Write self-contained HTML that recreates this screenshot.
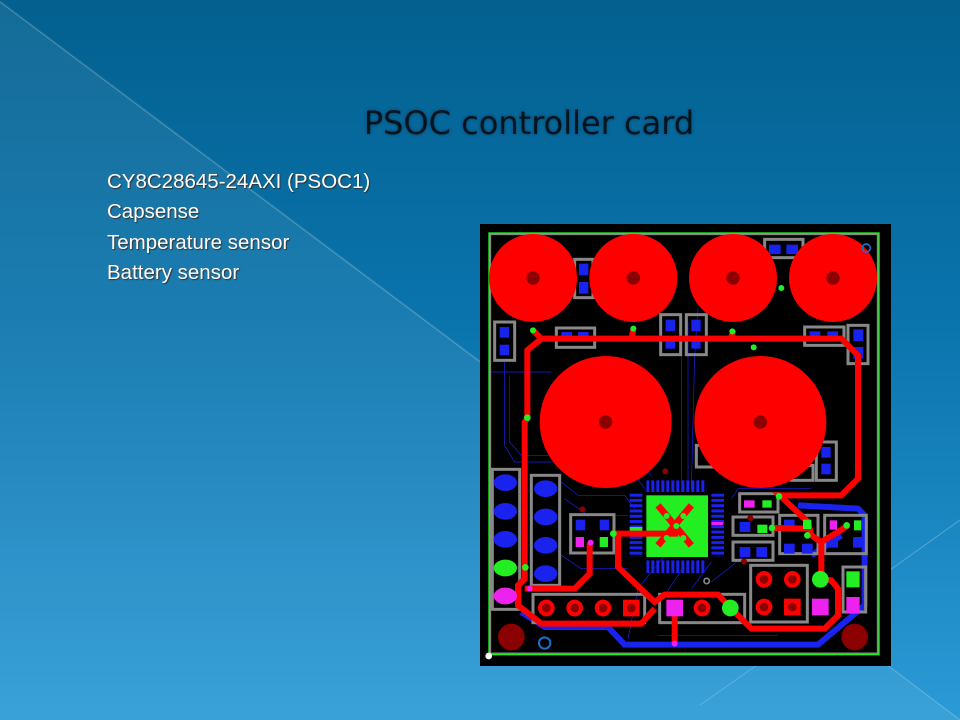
<!DOCTYPE html>
<html><head><meta charset="utf-8"><style>
html,body{margin:0;padding:0}
body{width:960px;height:720px;position:relative;overflow:hidden;background:linear-gradient(180deg,#03608f 0%,#0a74ad 45%,#2b9ad6 100%);font-family:"Liberation Sans",sans-serif}
#bg{position:absolute;left:0;top:0}
h1{position:absolute;left:0;width:1058px;top:104px;margin:0;text-align:center;font-weight:normal;font-size:32px;color:#04141f;font-family:"DejaVu Sans","Liberation Sans",sans-serif;text-shadow:0 0 3px #0a3e60}
.b{position:absolute;left:107px;color:#fff;font-size:20.5px;text-shadow:1px 1px 1px #333}
#pcb{position:absolute;left:478px;top:222px}
</style></head><body>
<svg id="bg" width="960" height="720">
<polygon points="0,0 960,720 0,720" fill="#ffffff" opacity="0.07"/>
<line x1="0" y1="2" x2="480" y2="362" stroke="#ffffff" stroke-opacity="0.25" stroke-width="1"/>
<line x1="960" y1="520" x2="890" y2="570" stroke="#ffffff" stroke-opacity="0.25"/>
<line x1="700" y1="705" x2="760" y2="663" stroke="#ffffff" stroke-opacity="0.2"/>
<line x1="886" y1="664" x2="960" y2="720" stroke="#ffffff" stroke-opacity="0.25"/>
</svg>
<h1>PSOC controller card</h1>
<div class="b" style="top:170px">CY8C28645-24AXI (PSOC1)</div>
<div class="b" style="top:200px">Capsense</div>
<div class="b" style="top:231px">Temperature sensor</div>
<div class="b" style="top:261px">Battery sensor</div>
<svg id="pcb" width="414" height="446" viewBox="0 0 1242 1338">
<rect x="6" y="6" width="1233" height="1326" fill="#000"/>
<rect x="37" y="37" width="1162" height="1257" fill="none" stroke="#888" stroke-width="5"/>
<rect x="33" y="33" width="1170" height="1265" fill="none" stroke="#22ee22" stroke-width="4"/>
<g stroke="#1a22ee" stroke-width="2" fill="none">
<path d="M95 460 L95 660 L130 700 L450 700 L520 760"/>
<path d="M80 420 L80 670 L110 720 L440 720 L500 800"/>
<path d="M250 780 L300 820 L440 820 L470 860"/>
<path d="M260 830 L330 880 L450 880"/>
<path d="M250 1000 L310 1040 L450 1040"/>
<path d="M610 300 L610 780 M630 300 L630 780"/>
<path d="M660 260 L650 400 L640 800"/>
<path d="M760 830 L780 800 L1000 800"/>
<path d="M560 1000 L480 1100 L450 1250"/>
<path d="M620 1030 L560 1120"/>
<path d="M700 1020 L640 1100"/>
<path d="M540 1240 L900 1240"/>
<path d="M40 450 L220 450"/>
<path d="M800 1000 L700 1080"/>
</g>
<g stroke="#1a22ee" stroke-width="18" fill="none" stroke-linejoin="round">
<path d="M130 1170 L200 1215 L390 1215 L440 1268 L1020 1268 L1160 1150 L1160 880 L1140 860 L960 850"/>
<path d="M1000 1000 L1090 940"/>
</g>
<g stroke="#888" stroke-width="9" fill="none">
<rect x="290" y="112" width="55" height="115"/>
<rect x="860" y="52" width="115" height="55"/>
<rect x="50" y="300" width="60" height="115"/>
<rect x="235" y="318" width="115" height="58"/>
<rect x="548" y="278" width="60" height="120"/>
<rect x="625" y="278" width="60" height="120"/>
<rect x="980" y="315" width="118" height="55"/>
<rect x="1110" y="310" width="60" height="115"/>
<rect x="43" y="742" width="82" height="420"/>
<rect x="160" y="760" width="85" height="330"/>
<rect x="278" y="878" width="130" height="115"/>
<rect x="785" y="815" width="115" height="55"/>
<rect x="765" y="885" width="120" height="55"/>
<rect x="765" y="960" width="120" height="55"/>
<rect x="905" y="880" width="115" height="115"/>
<rect x="1040" y="880" width="125" height="115"/>
<rect x="818" y="1030" width="170" height="170"/>
<rect x="1095" y="1035" width="68" height="135"/>
<rect x="165" y="1117" width="335" height="85"/>
<rect x="545" y="1117" width="255" height="85"/>
<rect x="655" y="670" width="50" height="65"/>
<rect x="1015" y="660" width="60" height="115"/>
<rect x="940" y="730" width="65" height="45"/>
</g>
<g fill="#1a22ee">
<rect x="303" y="125" width="28" height="35"/><rect x="303" y="180" width="28" height="35"/>
<rect x="873" y="68" width="35" height="28"/><rect x="925" y="68" width="35" height="28"/>
<rect x="65" y="315" width="28" height="32"/><rect x="65" y="368" width="28" height="32"/>
<rect x="250" y="330" width="32" height="28"/><rect x="300" y="330" width="32" height="28"/>
<rect x="563" y="293" width="28" height="35"/><rect x="563" y="350" width="28" height="30"/>
<rect x="640" y="293" width="28" height="35"/><rect x="640" y="350" width="28" height="30"/>
<rect x="995" y="328" width="32" height="28"/><rect x="1048" y="328" width="32" height="28"/>
<rect x="1126" y="322" width="30" height="35"/><rect x="1126" y="375" width="30" height="35"/>
<rect x="1030" y="675" width="28" height="32"/><rect x="1030" y="725" width="28" height="32"/>
<rect x="293" y="893" width="28" height="32"/><rect x="365" y="893" width="28" height="32"/>
<rect x="785" y="900" width="32" height="30"/><rect x="785" y="975" width="32" height="30"/><rect x="835" y="975" width="32" height="30"/>
<rect x="918" y="893" width="32" height="28"/><rect x="918" y="965" width="32" height="30"/><rect x="972" y="965" width="32" height="30"/>
<rect x="1052" y="945" width="28" height="32"/><rect x="1125" y="945" width="28" height="32"/>
<ellipse cx="82" cy="782" rx="35" ry="25"/><ellipse cx="82" cy="868" rx="35" ry="25"/><ellipse cx="82" cy="952" rx="35" ry="25"/>
<ellipse cx="203" cy="800" rx="35" ry="25"/><ellipse cx="203" cy="885" rx="35" ry="25"/><ellipse cx="203" cy="970" rx="35" ry="25"/><ellipse cx="203" cy="1055" rx="35" ry="25"/>
</g>
<defs>
<pattern id="pv" width="15" height="40" patternUnits="userSpaceOnUse" x="505"><rect width="9" height="40" fill="#1a22ee"/></pattern>
<pattern id="ph" width="40" height="15.8" patternUnits="userSpaceOnUse" y="815"><rect width="40" height="9" fill="#1a22ee"/></pattern>
</defs>
<rect x="505" y="775" width="180" height="35" fill="url(#pv)"/>
<rect x="505" y="1015" width="180" height="38" fill="url(#pv)"/>
<rect x="455" y="815" width="38" height="190" fill="url(#ph)"/>
<rect x="700" y="815" width="38" height="190" fill="url(#ph)"/>
<rect x="505" y="820" width="185" height="185" fill="#22ee22"/>
<g stroke="#ff0000" stroke-width="20"><line x1="540" y1="850" x2="640" y2="970"/><line x1="640" y1="850" x2="540" y2="970"/></g>
<rect x="455" y="915" width="38" height="12" fill="#22ee22"/>
<rect x="700" y="900" width="36" height="9" fill="#ee22ee"/>
<g fill="#ff0000">
<circle cx="165" cy="168" r="132"/><circle cx="466" cy="168" r="132"/><circle cx="765" cy="168" r="132"/><circle cx="1065" cy="168" r="132"/>
<circle cx="383" cy="600" r="198"/><circle cx="847" cy="600" r="198"/>
</g>
<g fill="#8b0000">
<circle cx="165" cy="168" r="20"/><circle cx="466" cy="168" r="20"/><circle cx="765" cy="168" r="20"/><circle cx="1065" cy="168" r="20"/>
<circle cx="383" cy="600" r="20"/><circle cx="847" cy="600" r="20"/>
</g>
<g stroke="#ff0000" stroke-width="18" fill="none" stroke-linejoin="miter">
<path d="M165 325 L190 350 L1090 350 L1140 400 L1140 770 L1090 820 L905 820 L990 900 L1000 940 L1030 960 L1030 1070 L1060 1075 L1080 1100 L1080 1180 L1040 1220 L820 1220 L760 1160 L720 1118 L560 1118 L530 1140 L420 1035 L420 935 L600 935"/>
<path d="M190 350 L148 385 L148 590 L140 600 L140 1070 L120 1090 L120 1150 L190 1205 L490 1205 L530 1160"/>
<path d="M140 1100 L290 1100 L335 1055 L335 962"/>
<path d="M1110 910 L1080 930 L1030 960 M885 918 L990 920"/>
<path d="M466 325 L460 350 M765 325 L760 350"/>
<path d="M590 1160 L590 1265"/>
</g>
<g fill="#ff0000">
<circle cx="205" cy="1158" r="25"/><circle cx="290" cy="1158" r="25"/><circle cx="375" cy="1158" r="25"/><rect x="435" y="1133" width="50" height="50"/>
<circle cx="672" cy="1158" r="25"/>
<circle cx="858" cy="1072" r="25"/><circle cx="943" cy="1072" r="25"/><circle cx="858" cy="1155" r="25"/><rect x="918" y="1130" width="50" height="50"/>
</g>
<g fill="#8b0000">
<circle cx="205" cy="1158" r="13"/><circle cx="290" cy="1158" r="13"/><circle cx="375" cy="1158" r="13"/><circle cx="460" cy="1158" r="13"/><circle cx="672" cy="1158" r="13"/>
<circle cx="858" cy="1072" r="13"/><circle cx="943" cy="1072" r="13"/><circle cx="858" cy="1155" r="13"/><circle cx="943" cy="1155" r="13"/>
<circle cx="100" cy="1245" r="40"/><circle cx="1130" cy="1245" r="40"/>
<circle cx="562" cy="748" r="9"/><circle cx="313" cy="862" r="9"/><circle cx="817" cy="888" r="9"/><circle cx="798" cy="1018" r="9"/>
</g>
<g fill="#22ee22">
<ellipse cx="82" cy="1038" rx="35" ry="25"/>
<circle cx="757" cy="1158" r="25"/><circle cx="1027" cy="1072" r="25"/>
<rect x="1105" y="1048" width="40" height="48"/>
<rect x="853" y="835" width="28" height="22"/><rect x="838" y="908" width="30" height="25"/><rect x="365" y="945" width="25" height="30"/><rect x="1128" y="895" width="22" height="30"/><rect x="975" y="893" width="25" height="28"/>
<circle cx="165" cy="325" r="9"/><circle cx="466" cy="320" r="9"/><circle cx="763" cy="328" r="9"/><circle cx="910" cy="198" r="9"/><circle cx="827" cy="376" r="9"/>
<circle cx="148" cy="587" r="10"/><circle cx="142" cy="1036" r="10"/><circle cx="406" cy="935" r="10"/><circle cx="903" cy="823" r="10"/><circle cx="882" cy="918" r="10"/><circle cx="988" cy="940" r="10"/><circle cx="1106" cy="910" r="10"/>
<circle cx="566" cy="882" r="9"/><circle cx="616" cy="882" r="9"/><circle cx="595" cy="912" r="9"/><circle cx="566" cy="948" r="9"/><circle cx="616" cy="948" r="9"/>
</g>
<g fill="#ee22ee">
<ellipse cx="82" cy="1122" rx="35" ry="25"/>
<rect x="565" y="1133" width="50" height="50"/><rect x="1002" y="1130" width="50" height="50"/><rect x="1105" y="1125" width="40" height="50"/>
<rect x="798" y="835" width="32" height="22"/><rect x="293" y="945" width="25" height="30"/><rect x="1055" y="895" width="22" height="28"/>
<circle cx="155" cy="1100" r="9"/><circle cx="338" cy="962" r="9"/><circle cx="590" cy="1265" r="9"/>
</g>
<circle cx="200" cy="1263" r="17" fill="none" stroke="#1a70cc" stroke-width="6"/>
<circle cx="1165" cy="78" r="12" fill="none" stroke="#1a70cc" stroke-width="5"/>
<circle cx="686" cy="1077" r="8" fill="none" stroke="#888" stroke-width="5"/>
<circle cx="32" cy="1302" r="10" fill="#fff"/>
</svg>
</body></html>
